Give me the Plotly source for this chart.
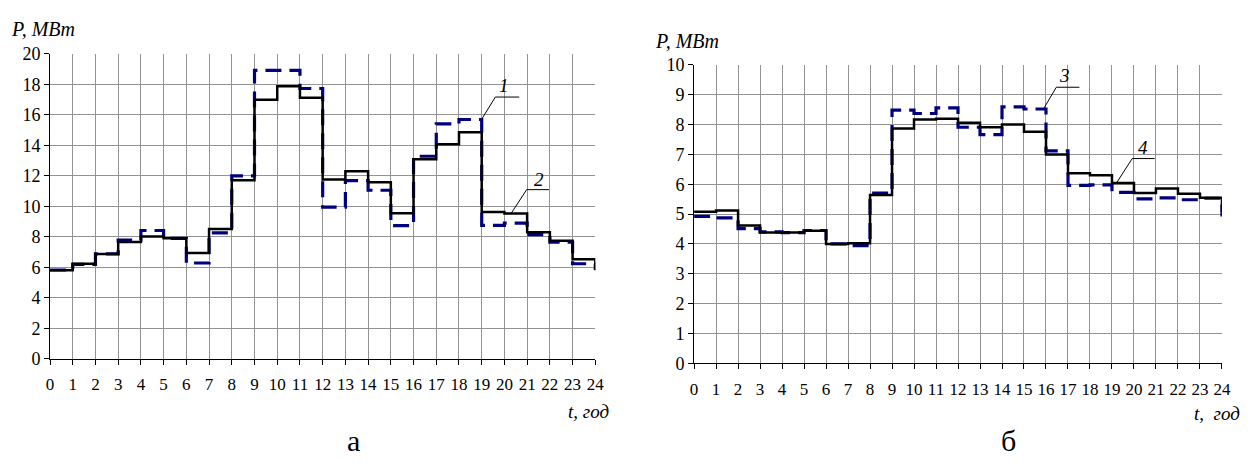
import plotly.graph_objects as go

hours = list(range(25))
tick_hours = list(range(25))

# Chart "а"
a_solid = [5.8, 6.23, 6.87, 7.66, 8.01, 7.91, 6.94, 8.51, 11.71, 16.99, 17.87, 17.11,
           11.76, 12.3, 11.57, 9.54, 13.08, 14.06, 14.85, 9.62, 9.52, 8.3, 7.74, 6.53]
a_dash = [5.82, 6.19, 6.88, 7.78, 8.41, 7.9, 6.28, 8.26, 11.99, 18.91, 18.91, 17.72,
          9.94, 11.68, 11.05, 8.73, 13.28, 15.4, 15.69, 8.74, 8.89, 8.14, 7.64, 6.23]

# Chart "б"
b_solid = [5.08, 5.12, 4.62, 4.38, 4.38, 4.44, 4.0, 4.02, 5.64, 7.87, 8.17, 8.19,
           8.06, 7.91, 8.0, 7.76, 7.0, 6.37, 6.3, 6.04, 5.71, 5.86, 5.68, 5.55]
b_dash = [4.92, 4.87, 4.51, 4.4, 4.38, 4.45, 4.0, 3.94, 5.7, 8.48, 8.37, 8.56,
          7.91, 7.66, 8.59, 8.52, 7.12, 5.96, 5.98, 5.73, 5.51, 5.54, 5.48, 5.53]

W, H = 1255, 469
FONT = "Liberation Serif, Times New Roman, DejaVu Serif, serif"
NAVY = "#00007f"

fig = go.Figure()

def add_pair(solid, dash, xa, ya):
    fig.add_trace(go.Scatter(x=hours, y=dash + [dash[0]], mode="lines", line_shape="hv",
                             line=dict(color=NAVY, width=3.2, dash="16px,8px"),
                             xaxis=xa, yaxis=ya, showlegend=False, hoverinfo="skip"))
    fig.add_trace(go.Scatter(x=hours, y=solid + [solid[0]], mode="lines", line_shape="hv",
                             line=dict(color="black", width=2.5),
                             xaxis=xa, yaxis=ya, showlegend=False, hoverinfo="skip"))

add_pair(a_solid, a_dash, "x", "y")
add_pair(b_solid, b_dash, "x2", "y2")

xcommon = dict(range=[0, 24], tickvals=tick_hours, ticktext=[str(h) for h in tick_hours],
               showgrid=True, gridcolor="#939393", gridwidth=1, showline=True,
               linecolor="black", linewidth=1, ticks="outside", ticklen=5,
               tickcolor="black", zeroline=False, ticklabelstandoff=5,
               tickfont=dict(family=FONT, size=17, color="black"))
ycommon = dict(showgrid=True, gridcolor="#939393", gridwidth=1, showline=True,
               linecolor="black", linewidth=1, ticks="outside", ticklen=5,
               tickcolor="black", zeroline=False,
               tickfont=dict(family=FONT, size=18, color="black"))

fig.update_layout(
    width=W, height=H, margin=dict(l=0, r=0, t=0, b=0),
    paper_bgcolor="white", plot_bgcolor="white",
    font=dict(family=FONT),
    xaxis=dict(domain=[46.5 / W, 597.5 / W], anchor="y", **xcommon),
    yaxis=dict(domain=[(H - 364.3) / H, (H - 45.7) / H], anchor="x",
               range=[0, 20], dtick=2, **ycommon),
    xaxis2=dict(domain=[697.3 / W, 1230.7 / W], anchor="y2", **xcommon),
    yaxis2=dict(domain=[(H - 369) / H, (H - 57.3) / H], anchor="x2",
                range=[0, 10], dtick=1, **ycommon),
)

def ptxt(x, y, text, size=18, italic=True, xanchor="left"):
    fig.add_annotation(x=x / W, y=1 - y / H, xref="paper", yref="paper", text=text,
                       showarrow=False, xanchor=xanchor, yanchor="middle",
                       font=dict(family=FONT, size=size, color="black",
                                 style="italic" if italic else "normal"))

ptxt(5, 20, "P, MBm", size=20)
ptxt(656, 32, "P, MBm", size=20)
ptxt(568, 419, "t, год", size=19)
ptxt(1200, 421, "t,  год", size=19)
ptxt(353, 450, "а", size=30, italic=False, xanchor="center")
ptxt(1015, 450, "б", size=30, italic=False, xanchor="center")

# Leader labels (data coordinates)
def leader(xa, ya, label, lx, ly, h0, h1, hy, px, py):
    fig.add_annotation(x=lx, y=ly, xref=xa, yref=ya, text=label, showarrow=False,
                       font=dict(family=FONT, size=19, color="black", style="italic"))
    fig.add_shape(type="line", xref=xa, yref=ya, x0=h0, x1=h1, y0=hy, y1=hy,
                  line=dict(color="black", width=1))
    fig.add_shape(type="line", xref=xa, yref=ya, x0=h0, x1=px, y0=hy, y1=py,
                  line=dict(color="black", width=1))

leader("x", "y", "1", 20.0, 17.9, 19.6, 20.65, 17.16, 19.0, 15.71)
leader("x", "y", "2", 21.5, 11.78, 20.98, 21.96, 11.09, 20.3, 9.54)
leader("x2", "y2", "3", 16.86, 9.66, 16.47, 17.52, 9.25, 15.9, 8.54)
leader("x2", "y2", "4", 20.42, 7.22, 19.92, 20.94, 6.86, 19.22, 6.06)

fig.write_html("out.html")
